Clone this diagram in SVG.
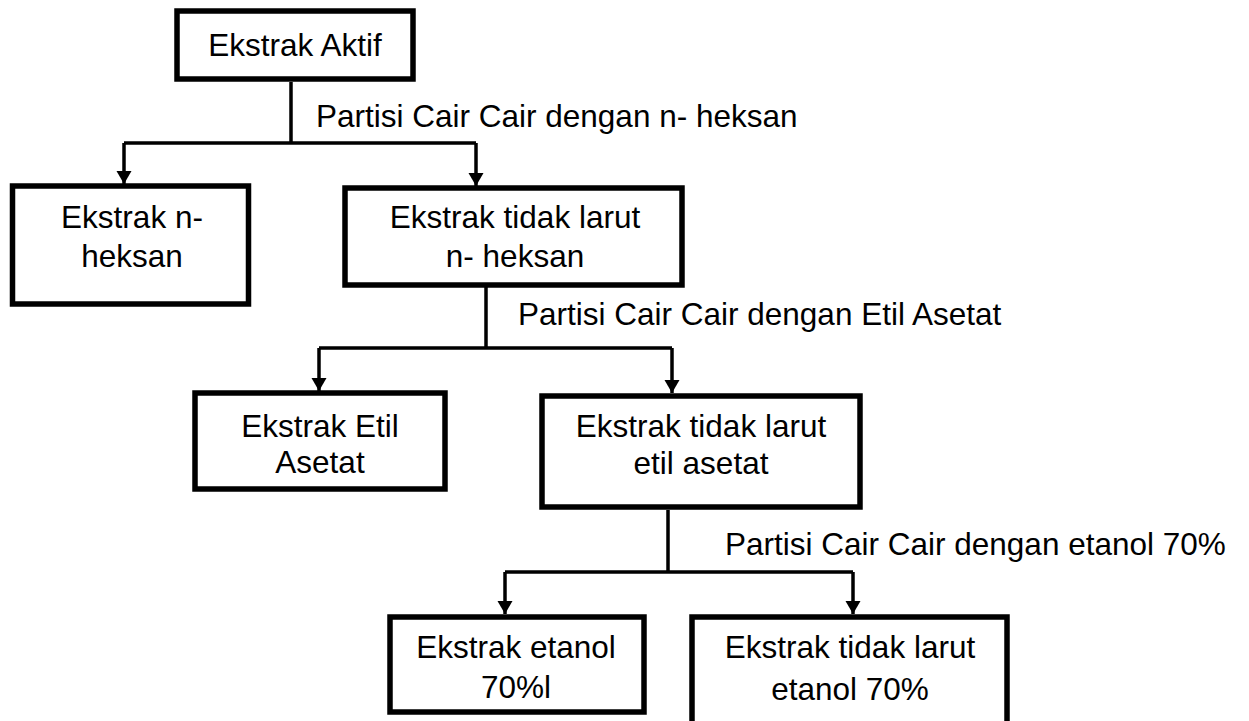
<svg xmlns="http://www.w3.org/2000/svg" width="1249" height="721" viewBox="0 0 1249 721">
<defs>
<style>
.box{fill:#ffffff;stroke:#000000;stroke-width:5.5}
.t{font-family:"Liberation Sans",Arial,sans-serif;font-size:31.5px;fill:#000000}
.c{text-anchor:middle}
.ln{fill:none;stroke:#000000;stroke-width:3.5}
</style>
<marker id="ah" markerUnits="userSpaceOnUse" markerWidth="14" markerHeight="16" refX="13" refY="7.5" orient="auto">
<path d="M0,0 L13,7.5 L0,15 z" fill="#000000"/>
</marker>
</defs>
<rect width="1249" height="721" fill="#ffffff"/>
<g id="connectors">
<path class="ln" d="M291,82 V143 M124,143 H476"/>
<path class="ln" d="M124,143 V184" marker-end="url(#ah)"/>
<path class="ln" d="M476,143 V186" marker-end="url(#ah)"/>
<path class="ln" d="M486,287 V348 M319,348 H672"/>
<path class="ln" d="M319,348 V391" marker-end="url(#ah)"/>
<path class="ln" d="M672,348 V393" marker-end="url(#ah)"/>
<path class="ln" d="M668,510 V572 M505,572 H853"/>
<path class="ln" d="M505,572 V614" marker-end="url(#ah)"/>
<path class="ln" d="M853,572 V614" marker-end="url(#ah)"/>
<text class="t" x="316" y="127">Partisi Cair Cair dengan n- heksan</text>
<text class="t" x="518" y="325">Partisi Cair Cair dengan Etil Asetat</text>
<text class="t" x="725" y="555">Partisi Cair Cair dengan etanol 70%</text>
</g>
<g id="n1">
<rect class="box" x="177" y="11" width="236" height="68"/>
<text class="t c" x="295" y="56">Ekstrak Aktif</text>
</g>
<g id="n2">
<rect class="box" x="12.5" y="186" width="236" height="118"/>
<text class="t c" x="132" y="228">Ekstrak n-</text>
<text class="t c" x="132" y="267">heksan</text>
</g>
<g id="n3">
<rect class="box" x="345" y="188" width="337" height="97"/>
<text class="t c" x="515" y="228">Ekstrak tidak larut</text>
<text class="t c" x="515" y="267">n- heksan</text>
</g>
<g id="n4">
<rect class="box" x="195" y="393" width="250" height="96"/>
<text class="t c" x="320" y="437">Ekstrak Etil</text>
<text class="t c" x="320" y="473">Asetat</text>
</g>
<g id="n5">
<rect class="box" x="542" y="396" width="318" height="111"/>
<text class="t c" x="701" y="437">Ekstrak tidak larut</text>
<text class="t c" x="701" y="474">etil asetat</text>
</g>
<g id="n6">
<rect class="box" x="390" y="617" width="254" height="95"/>
<text class="t c" x="516" y="658">Ekstrak etanol</text>
<text class="t c" x="516" y="698">70%l</text>
</g>
<g id="n7">
<rect class="box" x="692" y="617" width="315" height="110"/>
<text class="t c" x="850" y="658">Ekstrak tidak larut</text>
<text class="t c" x="850" y="700">etanol 70%</text>
</g>
</svg>
